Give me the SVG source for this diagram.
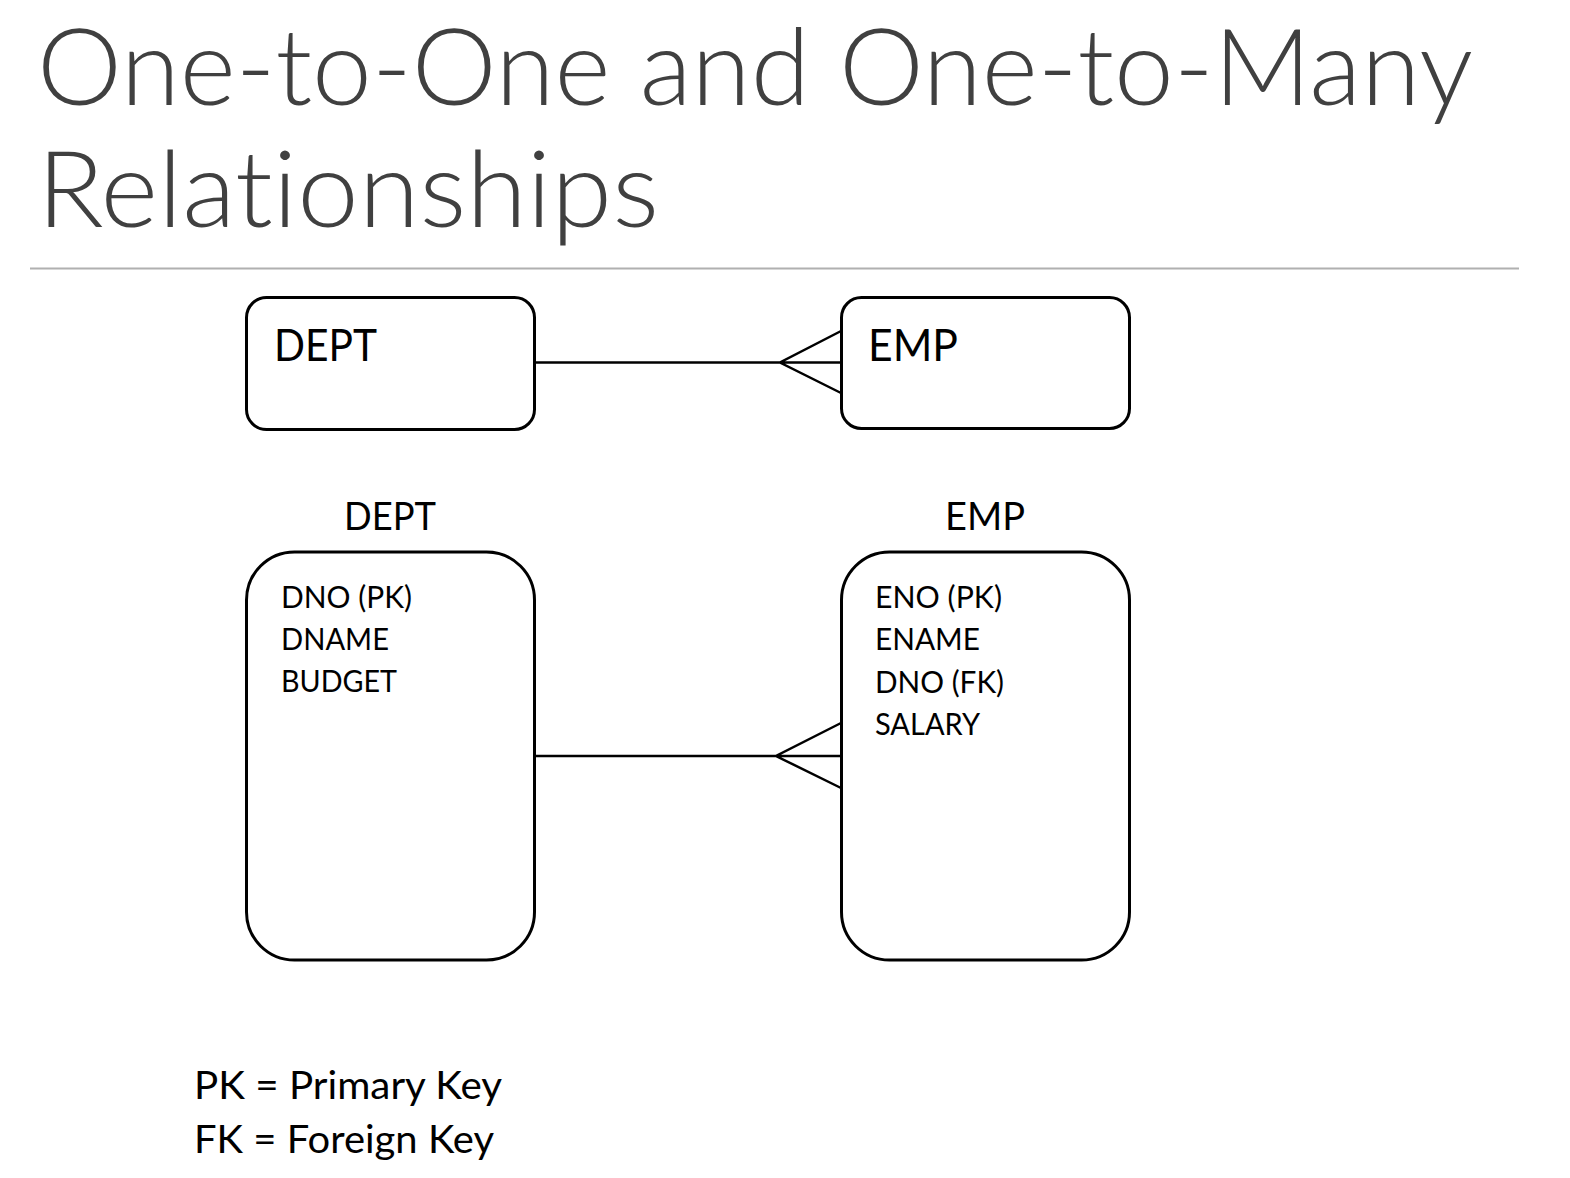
<svg xmlns="http://www.w3.org/2000/svg" width="1570" height="1178" viewBox="0 0 1570 1178">
<style>
text{font-variant-ligatures:none;font-feature-settings:"liga" 0,"clig" 0}
.title{font-family:Lato,"Liberation Sans",sans-serif;font-weight:300;font-size:107px;fill:#404040}
.lbl{font-family:Lato,"Liberation Sans",sans-serif;fill:#000}
.box{fill:#fff;stroke:#000;stroke-width:3}
.conn{fill:none;stroke:#000;stroke-width:2.5;stroke-linejoin:miter}
</style>
<rect width="1570" height="1178" fill="#fff"/>
<g id="title">
<text class="title" x="37" y="105" textLength="1436" lengthAdjust="spacingAndGlyphs">One-to-One and One-to-Many</text>
<text class="title" x="37" y="227" textLength="622" lengthAdjust="spacingAndGlyphs">Relationships</text>
<line x1="30" y1="268.5" x2="1519" y2="268.5" stroke="#b0b0b0" stroke-width="2"/>
</g>
<g id="connectors">
<path class="conn" d="M536 362.5 H841 M843 330 L780 362.5 L843 394"/>
<path class="conn" d="M535 756 H841 M841 723 L776 756 L841 788"/>
</g>
<g id="dept-top">
<rect class="box" x="246.5" y="297.5" width="288" height="132" rx="20"/>
<text class="lbl" x="274" y="361" font-size="44" textLength="103" lengthAdjust="spacingAndGlyphs">DEPT</text>
</g>
<g id="emp-top">
<rect class="box" x="841.5" y="297.5" width="288" height="131" rx="20"/>
<text class="lbl" x="868" y="361" font-size="44" textLength="90" lengthAdjust="spacingAndGlyphs">EMP</text>
</g>
<g id="dept">
<text class="lbl" x="344" y="530" font-size="38" textLength="92" lengthAdjust="spacingAndGlyphs">DEPT</text>
<rect class="box" x="246.5" y="552" width="288" height="408" rx="48"/>
<text class="lbl" x="281" y="608" font-size="30" textLength="131" lengthAdjust="spacingAndGlyphs">DNO (PK)</text>
<text class="lbl" x="281" y="650" font-size="30" textLength="108" lengthAdjust="spacingAndGlyphs">DNAME</text>
<text class="lbl" x="281" y="692" font-size="30" textLength="116" lengthAdjust="spacingAndGlyphs">BUDGET</text>
</g>
<g id="emp">
<text class="lbl" x="945" y="530" font-size="38" textLength="80" lengthAdjust="spacingAndGlyphs">EMP</text>
<rect class="box" x="841.5" y="552" width="288" height="408" rx="48"/>
<text class="lbl" x="875" y="608" font-size="30" textLength="127" lengthAdjust="spacingAndGlyphs">ENO (PK)</text>
<text class="lbl" x="875" y="650" font-size="30" textLength="105" lengthAdjust="spacingAndGlyphs">ENAME</text>
<text class="lbl" x="875" y="693" font-size="30" textLength="129" lengthAdjust="spacingAndGlyphs">DNO (FK)</text>
<text class="lbl" x="875" y="735" font-size="30" textLength="105" lengthAdjust="spacingAndGlyphs">SALARY</text>
</g>
<g id="legend">
<text class="lbl" x="194" y="1099" font-size="39" textLength="308" lengthAdjust="spacingAndGlyphs">PK = Primary Key</text>
<text class="lbl" x="194" y="1153" font-size="39" textLength="300" lengthAdjust="spacingAndGlyphs">FK = Foreign Key</text>
</g>
</svg>
